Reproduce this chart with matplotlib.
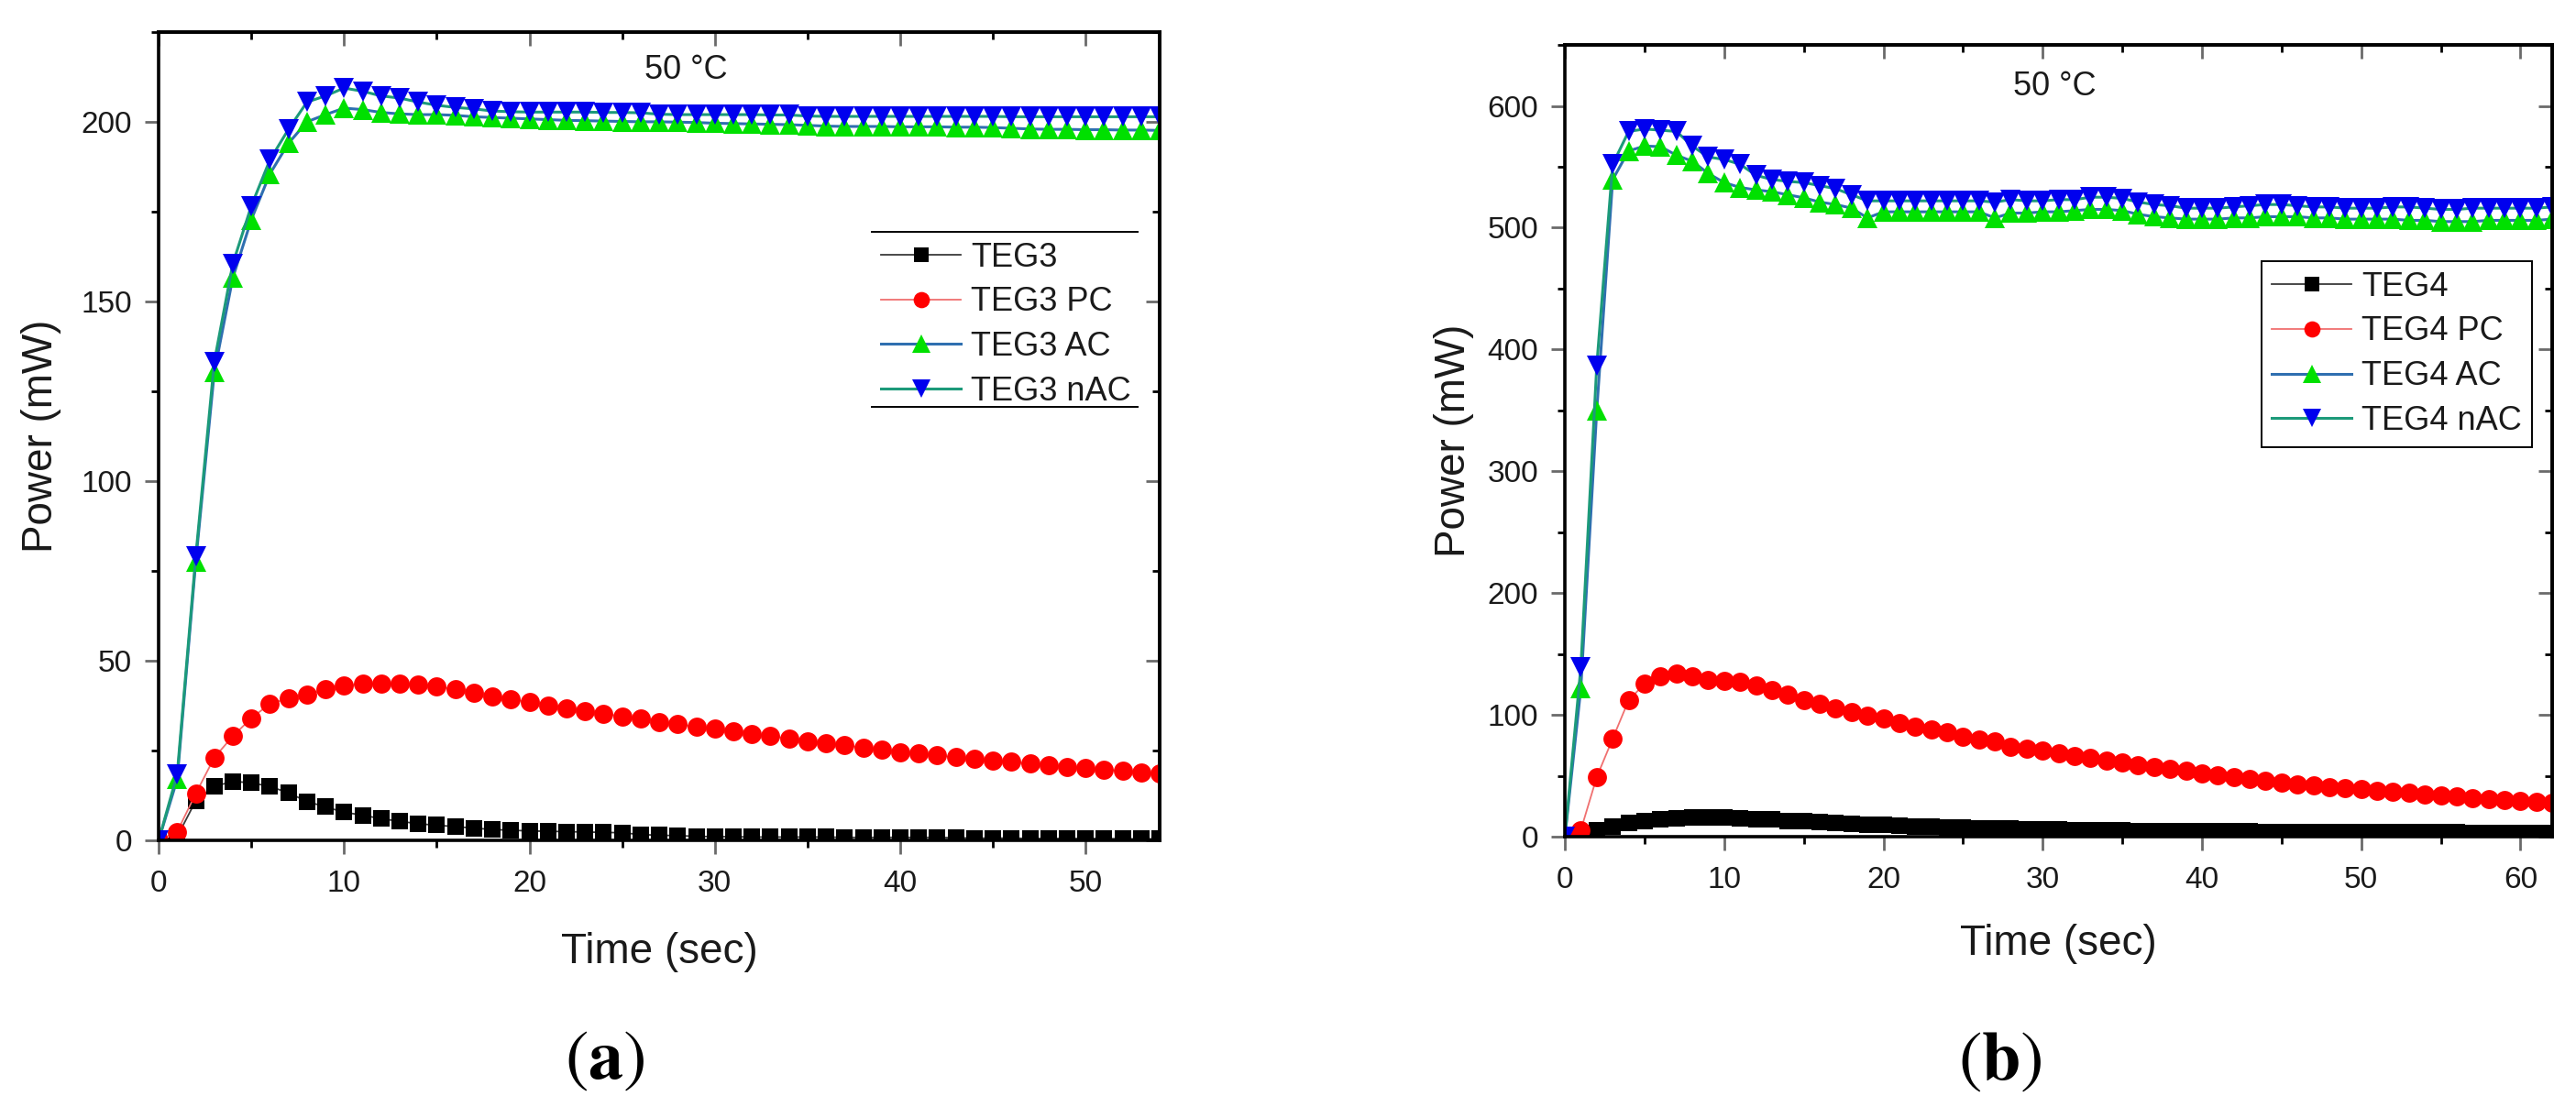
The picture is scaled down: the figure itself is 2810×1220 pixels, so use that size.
import numpy as np
import matplotlib
matplotlib.use("Agg")
import matplotlib.pyplot as plt
from matplotlib.ticker import MultipleLocator

plt.rcParams['font.family'] = ['Liberation Sans', 'DejaVu Sans']
plt.rcParams['mathtext.fontset'] = 'stix'

# ---- data (a): TEG3, 1 s sampling ----
time_a = np.arange(0, 55)
teg3 = [0, 1.0, 11, 15, 16.4, 16, 15, 13.2, 10.8, 9.3, 7.8, 7, 6, 5.3, 4.6,
        4.2, 3.8, 3.4, 3, 2.8, 2.6, 2.5, 2.4, 2.3, 2.2, 2.1, 1.6, 1.4, 1.3, 1.1,
        1.0, 1.0, 0.9, 0.9, 0.9, 0.9, 0.9, 0.8, 0.8, 0.8, 0.8, 0.8, 0.8, 0.7,
        0.6, 0.6, 0.6, 0.5, 0.5, 0.5, 0.5, 0.5, 0.4, 0.4, 0.4]
teg3_pc = [0, 2.4, 13, 23, 29, 34, 38, 39.5, 40.5, 42, 43, 43.5, 43.7, 43.7,
           43.4, 42.8, 42, 41, 40, 39.2, 38.5, 37.6, 36.8, 36, 35.2, 34.5, 33.8,
           33, 32.3, 31.6, 31, 30.3, 29.6, 29, 28.3, 27.5, 27, 26.4, 25.8, 25.2,
           24.6, 24.1, 23.6, 23.1, 22.6, 22.2, 21.8, 21.3, 20.9, 20.5, 20.1,
           19.7, 19.3, 18.9, 18.5]
teg3_ac = [0, 17, 77.6, 130.3, 156.6, 172.8, 185.5, 194, 200, 202, 203.8, 203.4,
           202.6, 202.2, 202, 202, 201.8, 201.4, 201.2, 201, 200.8, 200.6, 200.4,
           200.3, 200.2, 200.1, 200, 200, 199.9, 199.8, 199.6, 199.5, 199.4,
           199.3, 199.2, 199, 198.8, 198.7, 198.7, 198.7, 198.6, 198.6, 198.6,
           198.5, 198.5, 198.4, 198.2, 198, 197.9, 197.9, 197.8, 197.8, 197.7,
           197.7, 197.6]
teg3_nac = [0, 18.4, 79, 133.2, 160.5, 176.6, 189.4, 197.9, 205.5, 207.2, 209.4,
            208.5, 207.2, 206.6, 205.5, 204.6, 204, 203.6, 203, 202.8, 202.7,
            202.7, 202.7, 202.7, 202.6, 202.6, 202.5, 202.1, 202, 202, 202, 202,
            202, 201.9, 201.9, 201.6, 201.5, 201.5, 201.5, 201.5, 201.5, 201.5,
            201.5, 201.5, 201.5, 201.5, 201.4, 201.4, 201.4, 201.4, 201.4, 201.4,
            201.4, 201.4, 201.4]

# ---- data (b): TEG4, 1 s sampling ----
time_b = np.arange(0, 63)
teg4 = [0, 1, 5, 8, 11, 13, 14.5, 15, 15.5, 15.5, 15.5, 15, 14.5, 14, 13, 12.5,
        12, 11.5, 10.5, 10, 9.5, 9, 8.5, 8, 7.5, 7.2, 7, 6.7, 6.5, 6.2, 6, 5.8,
        5.6, 5.4, 5.2, 5, 4.9, 4.8, 4.7, 4.6, 4.5, 4.4, 4.3, 4.2, 4.1, 4, 3.9,
        3.9, 3.8, 3.8, 3.7, 3.7, 3.6, 3.6, 3.5, 3.5, 3.5, 3.4, 3.4, 3.4, 3.3,
        3.3, 3.3]
teg4_pc = [0, 5.5, 49, 80.5, 112, 125.5, 132, 134, 132, 129, 128, 127, 124,
           120.5, 117, 112, 109, 105.5, 102, 99, 97, 93, 90.5, 88, 85.5, 82, 80,
           78, 74, 72.5, 70.5, 68.5, 66.5, 64.5, 62.5, 61, 59, 57, 55.5, 54, 52,
           50.5, 49, 47.5, 46, 44.5, 43, 42, 41, 40, 39, 38, 37, 36, 35, 34, 33,
           32, 31, 30.5, 29.5, 28.5, 28]
teg4_ac = [0, 122, 350, 539.5, 563, 567, 566.5, 559.5, 554.5, 544.5, 537, 533,
           531, 529.5, 527, 524.5, 521, 519, 516, 508, 513, 513, 513, 513, 513,
           513, 513, 508, 512, 512, 513, 513, 514, 515, 515, 514, 511, 509, 508,
           507, 507, 507, 508, 508, 509, 509, 509, 508, 508, 507, 507, 507, 507,
           506, 506, 505, 505, 505, 506, 506, 506, 506, 507]
teg4_nac = [0, 139, 387, 552, 579, 581, 580, 579, 567, 558, 556, 552, 543, 539.5,
            538, 537, 534.5, 532, 527, 522, 522, 522, 522, 522, 522, 522, 522,
            521, 523, 522, 522, 523, 523, 525, 525, 524, 521, 519, 518, 516, 516,
            516, 517, 518, 519, 519, 518, 517, 517, 516, 516, 516, 517, 517, 516,
            515, 515, 516, 516, 516, 516, 516, 517]

TXT = '#1a1a1a'


def style_axes(ax, xmax, ymax, xmaj, ymaj):
    ax.set_xlim(0, xmax)
    ax.set_ylim(0, ymax)
    ax.xaxis.set_major_locator(MultipleLocator(xmaj))
    ax.xaxis.set_minor_locator(MultipleLocator(xmaj / 2))
    ax.yaxis.set_major_locator(MultipleLocator(ymaj))
    ax.yaxis.set_minor_locator(MultipleLocator(ymaj / 2))
    for s in ax.spines.values():
        s.set_linewidth(2.6)
        s.set_color('black')
    ax.tick_params(which='major', direction='out', length=11, width=2,
                   color='#6a6a6a', labelsize=24, labelcolor=TXT, pad=10)
    ax.tick_params(which='minor', direction='out', length=6, width=2,
                   color='black')
    ax.tick_params(axis='x', which='major', pad=12)

    # inward ticks on top and right
    top = ax.secondary_xaxis('top')
    top.xaxis.set_major_locator(MultipleLocator(xmaj))
    top.xaxis.set_minor_locator(MultipleLocator(xmaj / 2))
    top.tick_params(which='major', direction='in', length=11, width=2,
                    color='#6a6a6a', labeltop=False)
    top.tick_params(which='minor', direction='in', length=6, width=2,
                    color='black')
    right = ax.secondary_yaxis('right')
    right.yaxis.set_major_locator(MultipleLocator(ymaj))
    right.yaxis.set_minor_locator(MultipleLocator(ymaj / 2))
    right.tick_params(which='major', direction='in', length=11, width=2,
                      color='#6a6a6a', labelright=False)
    right.tick_params(which='minor', direction='in', length=6, width=2,
                      color='black')
    for sec in (top, right):
        for s in sec.spines.values():
            s.set_linewidth(2.6)

    ax.set_xlabel('Time (sec)', fontsize=33, color=TXT)
    ax.set_ylabel('Power (mW)', fontsize=33, color=TXT)


def draw_series(ax, t, base, pc, ac, nac, name):
    ax.plot(t, base, color='#3a3a3a', lw=1.3, marker='s', ms=13,
            mfc='black', mec='black', mew=0, label=name)
    ax.plot(t, pc, color='#f07070', lw=1.3, marker='o', ms=15,
            mfc='#ff0000', mec='#ff0000', mew=0, label=name + ' PC')
    ax.plot(t, ac, color='#2f6fb0', lw=2.2, marker='^', ms=16.5,
            mfc='#00e000', mec='#00e000', mew=0, label=name + ' AC')
    ax.plot(t, nac, color='#1c9a7a', lw=2.2, marker='v', ms=16.5,
            mfc='#0000ee', mec='#0000ee', mew=0, label=name + ' nAC')


def make_legend(ax, anchor, framed):
    leg = ax.legend(loc='upper left', bbox_to_anchor=anchor, frameon=framed,
                    fancybox=False, edgecolor='black', framealpha=1,
                    fontsize=26, labelspacing=0.38, handlelength=2.4,
                    handletextpad=0.3, borderpad=0.3, borderaxespad=0,
                    markerscale=0.85)
    if framed:
        leg.get_frame().set_linewidth(1.4)
    for txt in leg.get_texts():
        txt.set_color(TXT)
    return leg


fig = plt.figure(figsize=(28.1, 12.2), dpi=100)
ax_a = fig.add_axes([0.0616, 0.2484, 0.3886, 0.7230])
ax_b = fig.add_axes([0.6075, 0.2516, 0.3833, 0.7082])

# (a)
draw_series(ax_a, time_a, teg3, teg3_pc, teg3_ac, teg3_nac, 'TEG3')
style_axes(ax_a, 54, 225, 10, 50)
ax_a.xaxis.set_label_coords(0.5, -0.113)
ax_a.yaxis.set_label_coords(-0.097, 0.5)
ax_a.text(0.527, 0.953, '50 °C', transform=ax_a.transAxes, fontsize=26,
          color=TXT, ha='center', va='center')
make_legend(ax_a, (0.712, 0.753), False)
# Origin style: only a rule above and below the legend
ax_a.plot([0.712, 0.978], [0.753, 0.753], transform=ax_a.transAxes,
          color='black', lw=1.4, clip_on=False)
ax_a.plot([0.712, 0.978], [0.536, 0.536], transform=ax_a.transAxes,
          color='black', lw=1.4, clip_on=False)

# (b)
draw_series(ax_b, time_b, teg4, teg4_pc, teg4_ac, teg4_nac, 'TEG4')
style_axes(ax_b, 62, 650, 10, 100)
ax_b.xaxis.set_label_coords(0.5, -0.110)
ax_b.yaxis.set_label_coords(-0.092, 0.5)
ax_b.text(0.496, 0.947, '50 °C', transform=ax_b.transAxes, fontsize=26,
          color=TXT, ha='center', va='center')
make_legend(ax_b, (0.706, 0.727), True)

# panel tags
fig.text(660 / 2810, 1 - 1157 / 1220, r'$(\mathbf{a})$', fontsize=55,
         ha='center', va='center')
fig.text(2182 / 2810, 1 - 1158 / 1220, r'$(\mathbf{b})$', fontsize=55,
         ha='center', va='center')

fig.savefig('out.png', dpi=100)
